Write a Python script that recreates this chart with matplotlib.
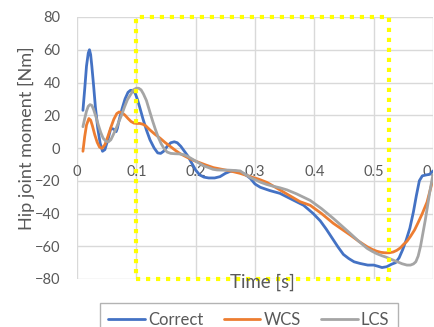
import matplotlib
matplotlib.use("Agg")
import matplotlib.pyplot as plt
from matplotlib.patches import Rectangle

# ---- data ----
t_correct = [0.010, 0.013, 0.016, 0.019, 0.021, 0.023, 0.025, 0.028, 0.031, 0.035,
             0.039, 0.043, 0.047, 0.052, 0.057, 0.062, 0.066, 0.068, 0.071, 0.076,
             0.081, 0.086, 0.090, 0.094, 0.098, 0.102, 0.106, 0.111, 0.117, 0.123,
             0.130, 0.136, 0.141, 0.146, 0.152, 0.158, 0.164, 0.169, 0.175, 0.181,
             0.187, 0.193, 0.200, 0.207, 0.214, 0.222, 0.232, 0.241, 0.250, 0.258,
             0.266, 0.275, 0.283, 0.292, 0.300, 0.309, 0.325, 0.342, 0.360, 0.382,
             0.398, 0.410, 0.420, 0.430, 0.440, 0.449, 0.458, 0.467, 0.477, 0.490,
             0.500, 0.508, 0.514, 0.522, 0.530, 0.537, 0.543, 0.549, 0.555, 0.561,
             0.567, 0.572, 0.577, 0.582, 0.588, 0.595, 0.600]
v_correct = [23, 36, 50, 58, 60, 57, 50, 38, 25, 12,
             3, -2, -1, 5, 12, 11.5, 10, 12, 17, 24,
             30, 34, 35.2, 35.2, 33.5, 29.5, 24.5, 18, 11, 5,
             0, -3, -3.3, -2, 1, 3.2, 3.8, 3.2, 1, -2,
             -5, -9, -13.5, -16.5, -17.8, -18.3, -18.3, -17.5, -15.5, -14.3,
             -14, -14.5, -16, -18.5, -22, -24, -26, -27.7, -31, -35,
             -40, -44.5, -49.5, -55, -60.5, -65, -67.5, -69.5, -70.5, -71.5,
             -71.5, -72.3, -73, -72.5, -71, -70, -67, -62, -56, -49,
             -39, -29, -20, -17, -16.5, -16, -14]

t_wcs = [0.010, 0.013, 0.016, 0.020, 0.023, 0.026, 0.030, 0.034, 0.038, 0.042,
         0.047, 0.052, 0.057, 0.062, 0.067, 0.071, 0.076, 0.081, 0.086, 0.091,
         0.096, 0.101, 0.106, 0.111, 0.116, 0.123, 0.131, 0.140, 0.148, 0.157,
         0.166, 0.174, 0.182, 0.190, 0.198, 0.207, 0.218, 0.230, 0.244, 0.258,
         0.275, 0.292, 0.306, 0.320, 0.332, 0.342, 0.358, 0.376, 0.393, 0.412,
         0.432, 0.446, 0.460, 0.475, 0.489, 0.498, 0.505, 0.512, 0.519, 0.526,
         0.533, 0.539, 0.545, 0.550, 0.556, 0.562, 0.569, 0.575, 0.582, 0.590,
         0.595, 0.600]
v_wcs = [-2, 7, 14, 18, 17, 13.5, 8, 3.5, 0.5, -0.2,
         2, 7, 12.5, 17.5, 21, 22, 21.5, 20, 18, 16.2,
         15.2, 15, 15, 14.5, 13.5, 11, 8.5, 6, 3.5, 1,
         -1.5, -3.5, -5, -6.5, -7.8, -9, -10.5, -12, -13, -14,
         -15.5, -17.5, -19, -21, -23.5, -25.6, -29, -32.8, -35, -40,
         -46, -49.5, -53, -57, -60.3, -62, -63, -63.7, -64, -64,
         -63.5, -62.5, -61, -59, -57, -54, -50, -45.5, -40, -33,
         -26, -19]

t_lcs = [0.010, 0.013, 0.016, 0.019, 0.022, 0.025, 0.028, 0.032, 0.036, 0.040,
         0.044, 0.049, 0.053, 0.057, 0.061, 0.066, 0.071, 0.075, 0.080, 0.085,
         0.091, 0.095, 0.100, 0.104, 0.108, 0.112, 0.117, 0.122, 0.127, 0.132,
         0.137, 0.142, 0.147, 0.152, 0.158, 0.165, 0.172, 0.179, 0.186, 0.193,
         0.200, 0.207, 0.214, 0.222, 0.229, 0.236, 0.245, 0.255, 0.265, 0.275,
         0.283, 0.292, 0.301, 0.310, 0.320, 0.330, 0.342, 0.354, 0.370, 0.393,
         0.412, 0.432, 0.446, 0.460, 0.475, 0.489, 0.497, 0.505, 0.514, 0.522,
         0.531, 0.540, 0.548, 0.556, 0.562, 0.567, 0.571, 0.575, 0.579, 0.583,
         0.587, 0.591, 0.595, 0.600]
v_lcs = [13, 18, 22.5, 25.5, 26.5, 26, 23.5, 19, 14, 9.5,
         6, 4, 3.8, 5, 8, 12, 16.5, 20, 25, 29.5,
         33, 35.5, 36.5, 36.5, 35.5, 33, 29, 23, 17, 11.5,
         6.5, 2.5, -0.5, -2.5, -3.3, -3.5, -3.6, -4, -5, -6.5,
         -8, -9.5, -11, -12, -13, -13.4, -13.5, -13.5, -13.7, -14,
         -16, -18, -19.5, -21, -22.3, -23.3, -24.3, -25.6, -28, -32,
         -37, -43, -47.5, -52, -57, -61.3, -63, -64.5, -65.8, -66.8,
         -68.2, -69.5, -70.7, -71.5, -71.5, -70.8, -69.5, -66, -60, -52,
         -44, -35, -26, -16]

series_names = ["Correct", "WCS", "LCS"]
x_ticks = [0, 0.1, 0.2, 0.3, 0.4, 0.5, 0.6]
x_tick_labels = ["0", "0.1", "0.2", "0.3", "0.4", "0.5", "0.6"]
y_ticks = [-80, -60, -40, -20, 0, 20, 40, 60, 80]

# ---- style / layout ----
colors = ["#4472C4", "#ED7D31", "#A5A5A5"]
FONT = ["Lato", "DejaVu Sans"]
plt.rcParams["font.family"] = FONT
TXT = "#595959"
RECT_X0, RECT_X1, RECT_Y0, RECT_Y1 = 0.1, 0.525, -80, 80

fig = plt.figure(figsize=(4.35, 3.27), dpi=100)
ax = fig.add_axes([77/435, 1-279/327, (433-77)/435, (279-17)/327])

for tt, vv, c, n in zip([t_correct, t_wcs, t_lcs], [v_correct, v_wcs, v_lcs], colors, series_names):
    ax.plot(tt, vv, color=c, lw=2.0, label=n, solid_joinstyle="round", solid_capstyle="round", zorder=3)

ax.set_xlim(0, 0.6)
ax.set_ylim(-80, 80)
ax.set_xticks(x_ticks)
ax.set_xticklabels(x_tick_labels)
ax.set_yticks(y_ticks)
for s in ax.spines.values():
    s.set_visible(False)
ax.spines["bottom"].set_position(("data", 0))
ax.grid(True, color="#D9D9D9", lw=1.0, zorder=0)
ax.set_axisbelow(True)
ax.tick_params(axis="both", length=0, labelsize=10.5, colors=TXT)
ax.tick_params(axis="x", pad=12)
ax.tick_params(axis="y", pad=12)

rect = Rectangle((RECT_X0, RECT_Y0), RECT_X1 - RECT_X0, RECT_Y1 - RECT_Y0, fill=False,
                 edgecolor="#FFFF00", lw=3.0, linestyle=(0, (1.0, 1.4)), zorder=5, clip_on=False)
ax.add_patch(rect)

xl = fig.text(262/435, 1-282/327, "Time [s]", ha="center", va="center", fontsize=12.5, color=TXT)
yl = fig.text(26/435, 1-138.5/327, "Hip joint moment [Nm]", ha="center", va="center",
              rotation=90, fontsize=12, color=TXT)

leg = fig.legend(loc="upper center", bbox_to_anchor=(249/435, 1-295/327), ncol=3,
                 frameon=True, fancybox=False, edgecolor="#A0A0A0", fontsize=12,
                 handlelength=2.2, columnspacing=1.2, handletextpad=0.2, borderpad=0.5)
leg.get_frame().set_linewidth(1.0)
for txt in leg.get_texts():
    txt.set_color(TXT)

# fit title text sizes to the reference's measured extents (pixels)
fig.canvas.draw()
r = fig.canvas.get_renderer()
bb = yl.get_window_extent(r)
yl.set_fontsize(12 * 183.0 / bb.height)
bb = xl.get_window_extent(r)
xl.set_fontsize(12.5 * 65.0 / bb.width)

fig.savefig("out.png", dpi=100)
